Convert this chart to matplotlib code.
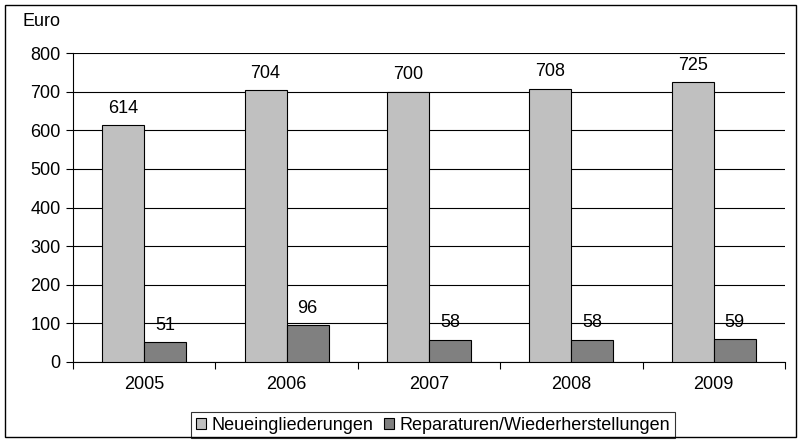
import matplotlib
matplotlib.use("Agg")
import matplotlib.pyplot as plt
import numpy as np
from matplotlib.patches import Rectangle

plt.rcParams['font.family'] = ['Liberation Sans', 'DejaVu Sans']

years = ["2005", "2006", "2007", "2008", "2009"]
neu = [614, 704, 700, 708, 725]
rep = [51, 96, 58, 58, 59]
yticks = [0, 100, 200, 300, 400, 500, 600, 700, 800]

FS = 13
fig = plt.figure(figsize=(8, 4.41), dpi=100)
ax = fig.add_axes([73/800, 1-362/441, 712/800, 309/441])

x = np.arange(len(years))
w = 0.295
ax.bar(x - w/2, neu, w, color="#C0C0C0", edgecolor="black", linewidth=0.8, label="Neueingliederungen", zorder=3)
ax.bar(x + w/2, rep, w, color="#808080", edgecolor="black", linewidth=0.8, label="Reparaturen/Wiederherstellungen", zorder=3)

for xi, v in zip(x - w/2, neu):
    ax.annotate(str(v), (xi, v), xytext=(0, 6), textcoords="offset points", ha="center", va="bottom", fontsize=FS)
for xi, v in zip(x + w/2, rep):
    ax.annotate(str(v), (xi, v), xytext=(0, 6), textcoords="offset points", ha="center", va="bottom", fontsize=FS)

ax.set_xlim(-0.5, len(years) - 0.5)
ax.set_ylim(0, 800)
ax.set_yticks(yticks)
ax.set_yticklabels([str(t) for t in yticks], fontsize=FS)
ax.yaxis.grid(True, color="black", linewidth=0.8, zorder=0)
ax.set_axisbelow(True)

ax.set_xticks(x)
ax.set_xticklabels(years, fontsize=FS)
ax.tick_params(axis="x", length=0, pad=10)
ax.set_xticks(np.arange(-0.5, len(years)), minor=True)
ax.tick_params(axis="x", which="minor", length=5, width=0.8, direction="out")
ax.tick_params(axis="y", length=5, width=0.8, direction="out", pad=4)

for s in ["top", "right"]:
    ax.spines[s].set_visible(False)
ax.spines["left"].set_linewidth(0.8)
ax.spines["bottom"].set_linewidth(0.8)

fig.text(22/800, 1-22/441, "Euro", fontsize=FS, va="center", ha="left")

leg = ax.legend(loc="center", bbox_to_anchor=(433/800, 1-425/441), bbox_transform=fig.transFigure,
                ncol=2, frameon=True, fontsize=FS, fancybox=False, edgecolor="black",
                handlelength=0.55, handleheight=0.55, handletextpad=0.3, columnspacing=0.6,
                borderpad=0.25, borderaxespad=0)
leg.get_frame().set_linewidth(0.8)

fig.patches.append(Rectangle((5/800, 4/441), 791/800, 432/441, transform=fig.transFigure,
                             fill=False, edgecolor="black", linewidth=1.0))

fig.savefig("out.png", dpi=100)
